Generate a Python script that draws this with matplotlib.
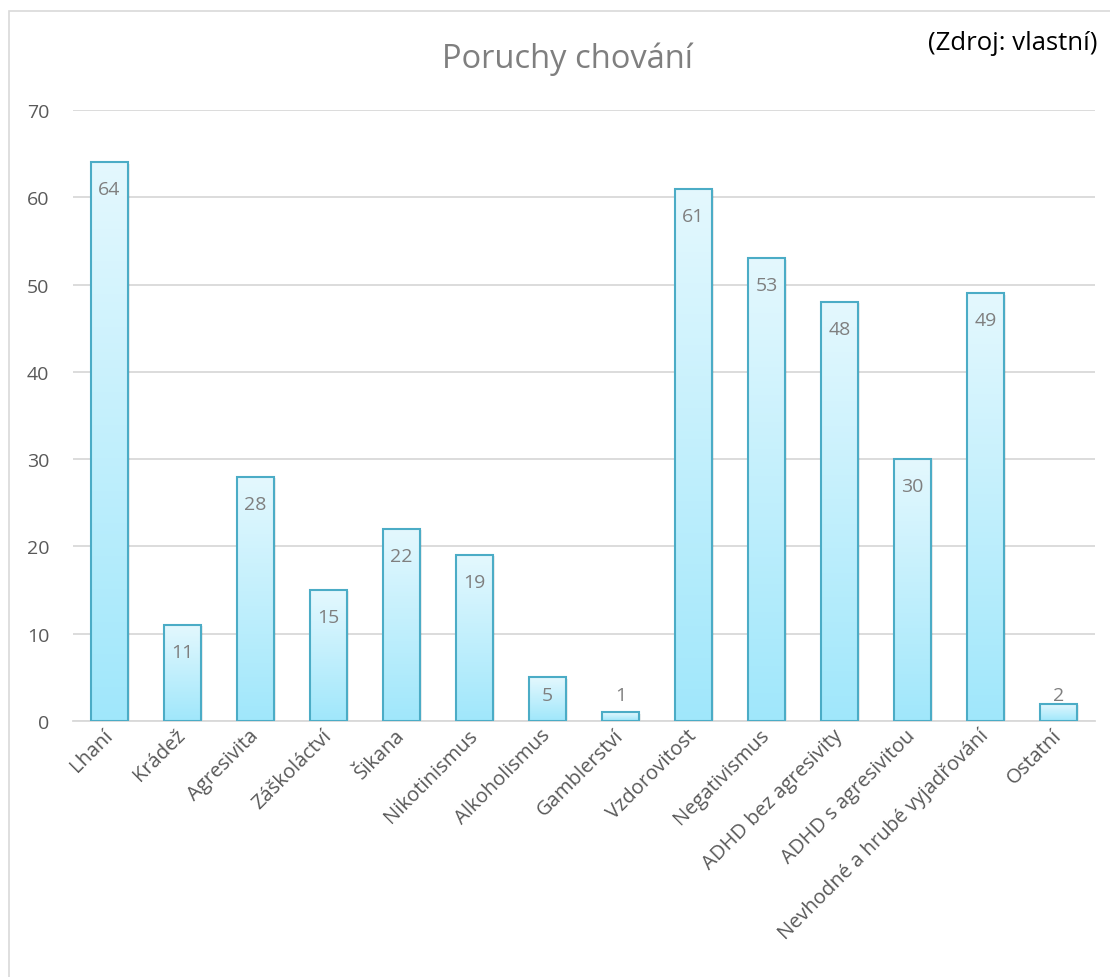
import matplotlib
matplotlib.use("Agg")
import matplotlib.pyplot as plt
import numpy as np
from matplotlib.colors import LinearSegmentedColormap
from matplotlib.patches import Rectangle

categories = ["Lhaní", "Krádež", "Agresivita", "Záškoláctví", "Šikana", "Nikotinismus",
              "Alkoholismus", "Gamblerství", "Vzdorovitost", "Negativismus",
              "ADHD bez agresivity", "ADHD s agresivitou", "Nevhodné a hrubé vyjadřování",
              "Ostatní"]
values = [64, 11, 28, 15, 22, 19, 5, 1, 61, 53, 48, 30, 49, 2]
y_ticks = [0, 10, 20, 30, 40, 50, 60, 70]
title = "Poruchy chování"
source = "(Zdroj: vlastní)"

plt.rcParams['font.family'] = ['Open Sans', 'DejaVu Sans']

fig = plt.figure(figsize=(11.1, 9.78), dpi=100)
# outer frame
fig.patches.append(Rectangle((9/1110, -0.1), 1.2, 1 - 12/978 + 0.1, transform=fig.transFigure,
                             fill=False, edgecolor='#D9D9D9', linewidth=1.2))

ax = fig.add_axes([73/1110, 1 - 722/978, (1095 - 73)/1110, (722 - 111)/978])
x = np.arange(len(categories))
ax.set_xlim(-0.5, len(categories) - 0.5)
ax.set_ylim(0, 70)

cmap = LinearSegmentedColormap.from_list("g", ["#A0E7FB", "#E4F8FE"])
grad = np.linspace(0, 1, 256).reshape(-1, 1)

bars = ax.bar(x, values, width=0.51, color='none', edgecolor='#4BACC6', linewidth=1.5, zorder=3)
for b, v in zip(bars, values):
    bx, bw, bh = b.get_x(), b.get_width(), b.get_height()
    # soft shadow
    ax.add_patch(Rectangle((bx + 0.025, 0), bw, bh - 0.15, facecolor='#000000', alpha=0.07,
                           edgecolor='none', zorder=2))
    im = ax.imshow(grad, cmap=cmap, aspect='auto', origin='lower',
                   extent=(bx, bx + bw, 0, bh), zorder=2.5)
    im.set_clip_path(b)
    ax.text(bx + bw / 2, max(bh - 3.1, 3.0), str(v), ha='center', va='center',
            fontsize=14, color='#7F7F7F', zorder=4)

ax.set_yticks(y_ticks)
ax.yaxis.grid(True, color='#D9D9D9', linewidth=1.3, zorder=0)
ax.set_axisbelow(True)
for s in ['top', 'right', 'left']:
    ax.spines[s].set_visible(False)
ax.spines['bottom'].set_color('#D9D9D9')
ax.spines['bottom'].set_linewidth(1.3)
ax.tick_params(axis='y', length=0, pad=17, labelsize=14, labelcolor='#595959')
ax.tick_params(axis='x', length=0, pad=8, labelsize=14.5, labelcolor='#595959')
ax.set_xticks(x)
ax.set_xticklabels(categories, rotation=45, ha='right', va='center', rotation_mode='anchor')

fig.text(567/1110, 1 - 68/978, title, ha='center', va='baseline', fontsize=23.5, color='#7F7F7F')
fig.text(1097/1110, 1 - 44/978, source, ha='right', va='center', fontsize=18.5, color='#000000')

fig.savefig("out.png", dpi=100)
